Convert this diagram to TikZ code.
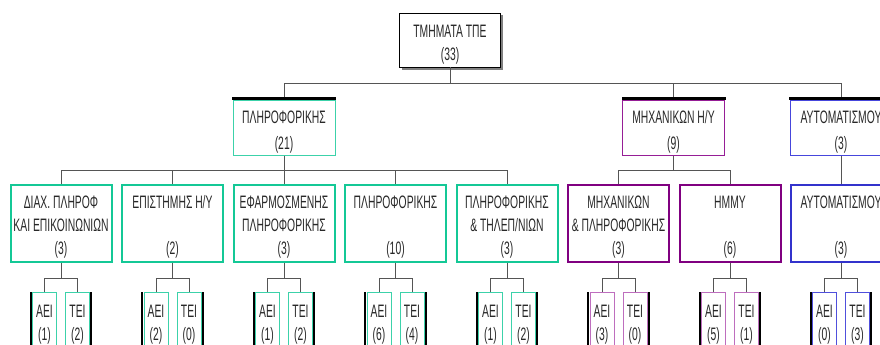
\documentclass[tikz,border=0pt]{standalone}
\usepackage{fontspec}
\setmainfont{Liberation Sans}[FakeStretch=0.575]
\usetikzlibrary{shadows}
\definecolor{tealB}{RGB}{60,210,170}
\definecolor{tealC}{RGB}{20,200,150}
\definecolor{tealL}{RGB}{60,210,170}
\definecolor{purpB}{RGB}{150,30,150}
\definecolor{purpC}{RGB}{128,0,128}
\definecolor{purpL}{RGB}{190,110,190}
\definecolor{blueB}{RGB}{70,70,220}
\definecolor{blueC}{RGB}{51,51,204}
\definecolor{blueL}{RGB}{80,80,220}
\definecolor{linegray}{RGB}{85,85,85}
\definecolor{txt}{RGB}{40,40,40}
\newcommand\tp{\rule{0pt}{21pt}}
\begin{document}
\begin{tikzpicture}[x=1pt,y=-1pt,
  base/.style={draw, fill=white, align=center, text=txt, font=\fontsize{18}{23}\selectfont,
    inner sep=0pt},
  lone/.style={base, draw=black, line width=0.6pt, minimum width=101pt, minimum height=54pt,
    general shadow={fill=gray, shadow xshift=2.5pt, shadow yshift=-2.5pt}},
  ltwo/.style={base, line width=1pt, minimum width=102pt, minimum height=55pt,
    font=\fontsize{18}{26}\selectfont},
  lthree/.style={base, line width=2pt, minimum width=101pt, minimum height=77pt},
  leaf/.style={base, line width=0.8pt, minimum width=24pt, minimum height=56pt},
  band/.style={fill=black, draw=none},
  conn/.style={draw=linegray, line width=0.8pt}
]
\useasboundingbox (0,0) rectangle (880,345);
\clip (0,0) rectangle (880,345);
\fill[white] (0,0) rectangle (880,345);

% level 1
\node[lone] (top) at (450,40) {\tp ΤΜΗΜΑΤΑ ΤΠΕ\\(33)};

% level 2
\node[ltwo, draw=tealB] (p2) at (284,127.5) {\tp ΠΛΗΡΟΦΟΡΙΚΗΣ\\(21)};
\node[ltwo, draw=purpB] (m2) at (673.5,127.5) {\tp ΜΗΧΑΝΙΚΩΝ Η/Υ\\(9)};
\node[ltwo, draw=blueB] (a2) at (841,127.5) {\tp ΑΥΤΟΜΑΤΙΣΜΟΥ\\(3)};
\foreach \n in {p2,m2,a2}{
  \path[band] ([xshift=-0.5pt,yshift=-0.3pt]\n.north west) rectangle ([xshift=0.5pt,yshift=2.2pt]\n.north east);
}

% level 3
\node[lthree, draw=tealC] (c1) at (61,223) {\tp ΔΙΑΧ. ΠΛΗΡΟΦ\\ΚΑΙ ΕΠΙΚΟΙΝΩΝΙΩΝ\\(3)};
\node[lthree, draw=tealC] (c2) at (172.5,223) {\tp ΕΠΙΣΤΗΜΗΣ Η/Υ\\\mbox{}\\(2)};
\node[lthree, draw=tealC] (c3) at (284,223) {\tp ΕΦΑΡΜΟΣΜΕΝΗΣ\\ΠΛΗΡΟΦΟΡΙΚΗΣ\\(3)};
\node[lthree, draw=tealC] (c4) at (395.5,223) {\tp ΠΛΗΡΟΦΟΡΙΚΗΣ\\\mbox{}\\(10)};
\node[lthree, draw=tealC] (c5) at (507,223) {\tp ΠΛΗΡΟΦΟΡΙΚΗΣ\\\& ΤΗΛΕΠ/ΝΙΩΝ\\(3)};
\node[lthree, draw=purpC] (c6) at (618.5,223) {\tp ΜΗΧΑΝΙΚΩΝ\\\& ΠΛΗΡΟΦΟΡΙΚΗΣ\\(3)};
\node[lthree, draw=purpC] (c7) at (730,223) {\tp ΗΜΜΥ\\\mbox{}\\(6)};
\node[lthree, draw=blueC] (c8) at (841,223) {\tp ΑΥΤΟΜΑΤΙΣΜΟΥ\\\mbox{}\\(3)};

% level 4 leaves
\foreach \i/\x/\a/\t/\col in {1/61/1/2/tealL, 2/172.5/2/0/tealL, 3/284/1/2/tealL, 4/395.5/6/4/tealL,
    5/507/1/2/tealL, 6/618.5/3/0/purpL, 7/730/5/1/purpL, 8/841/0/3/blueL}{
  \node[leaf, draw=\col] (e\i) at (\x-16.5,320) {\tp ΑΕΙ\\(\a)};
  \node[leaf, draw=\col] (t\i) at (\x+16.5,320) {\tp ΤΕΙ\\(\t)};
  \path[band] ([xshift=-0.4pt]e\i.north west) rectangle ([xshift=-2.4pt]e\i.south west);
  \path[band] ([xshift=0.4pt]t\i.north east) rectangle ([xshift=2.4pt]t\i.south east);
  \draw[conn] (c\i.south) -- (c\i.south |- 0,278);
  \draw[conn] (e\i.north) |- (t\i.north |- 0,278) -- (t\i.north);
}

% connectors level 1 -> 2
\coordinate (j1) at (450,83);
\draw[conn] (top.south) -- (j1);
\draw[conn] (p2.north |- j1) -- (a2.north |- j1);
\foreach \n in {p2,m2,a2}{
  \draw[conn] (\n.north |- j1) -- ([yshift=2.2pt]\n.north);
}

% connectors level 2 -> 3
\draw[conn] (p2.south) -- (p2.south |- 0,170);
\draw[conn] (c1.north |- 0,170) -- (c5.north |- 0,170);
\foreach \n in {c1,c2,c3,c4,c5}{
  \draw[conn] (\n.north) -- (\n.north |- 0,170);
}
\draw[conn] (m2.south) -- (m2.south |- 0,170);
\draw[conn] (c6.north |- 0,170) -- (c7.north |- 0,170);
\foreach \n in {c6,c7}{
  \draw[conn] (\n.north) -- (\n.north |- 0,170);
}
\draw[conn] (a2.south) -- (c8.north);
\end{tikzpicture}
\end{document}
